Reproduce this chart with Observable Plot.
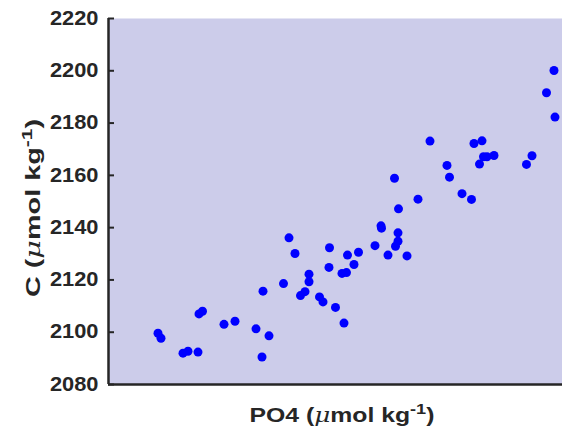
<!DOCTYPE html>
<html>
<head>
<meta charset="utf-8">
<script src="https://cdn.jsdelivr.net/npm/d3@7"></script>
<script src="https://cdn.jsdelivr.net/npm/@observablehq/plot@0.6"></script>
<style>
  html, body { margin: 0; padding: 0; background: #fff; }
  #chart svg { display: block; }
</style>
</head>
<body>
<div id="chart"></div>
<script>
// PO4 (µmol/kg) and C (µmol/kg) pairs
const po4 = [0.999, 1.005, 1.049, 1.059, 1.079, 1.081, 1.088, 1.131, 1.153, 1.195,
             1.209, 1.207, 1.221, 1.250, 1.261, 1.273, 1.284, 1.293, 1.301, 1.301,
             1.322, 1.329, 1.341, 1.342, 1.354, 1.367, 1.376, 1.371, 1.378, 1.391,
             1.400, 1.433, 1.445, 1.446, 1.459, 1.472, 1.474, 1.479, 1.479, 1.480,
             1.497, 1.519, 1.543, 1.577, 1.582, 1.607, 1.626, 1.631, 1.642, 1.647,
             1.650, 1.657, 1.671, 1.736, 1.747, 1.776, 1.791, 1.793];
const carbon = [2099.6, 2097.7, 2092.0, 2092.7, 2092.4, 2107.0, 2108.0, 2103.0, 2104.2, 2101.3,
                2115.7, 2090.5, 2098.6, 2118.6, 2136.1, 2130.1, 2114.0, 2115.5, 2122.2, 2119.3,
                2113.5, 2111.6, 2124.8, 2132.3, 2109.5, 2122.5, 2122.8, 2103.5, 2129.5, 2125.9,
                2130.6, 2133.1, 2140.7, 2139.8, 2129.5, 2158.9, 2132.9, 2134.8, 2138.0, 2147.2,
                2129.2, 2150.9, 2173.1, 2163.8, 2159.3, 2153.0, 2150.8, 2172.2, 2164.3, 2173.2,
                2167.1, 2167.1, 2167.6, 2164.2, 2167.5, 2191.6, 2200.1, 2182.3];
const yTicks = [2080, 2100, 2120, 2140, 2160, 2180, 2200, 2220];
const xDomain = [0.9, 1.808];
const yDomain = [2080, 2220];

const data = po4.map((p, i) => ({po4: p, c: carbon[i]}));

const font = "'Liberation Sans', Arial, Helvetica, sans-serif";
const axisColor = "#262626";

const chart = Plot.plot({
  width: 562,
  height: 432,
  marginLeft: 108,
  marginRight: 0,
  marginTop: 18,
  marginBottom: 48,
  style: {fontFamily: font, background: "white"},
  x: {domain: xDomain, axis: null},
  y: {domain: yDomain, axis: null},
  marks: [
    Plot.frame({fill: "#ccccea", stroke: null}),
    Plot.axisY({
      ticks: yTicks,
      tickSize: -6,
      tickPadding: 16,
      stroke: axisColor,
      strokeWidth: 2,
      fill: axisColor,
      fontSize: 19.5,
      fontWeight: "bold",
      label: null,
      tickFormat: d => String(d)
    }),
    Plot.dot(data, {x: "po4", y: "c", r: 4.5, fill: "#0000ff", stroke: null}),
    Plot.ruleX([xDomain[0]], {stroke: axisColor, strokeWidth: 2.5}),
    Plot.ruleY([yDomain[0]], {stroke: axisColor, strokeWidth: 2.5})
  ]
});

document.getElementById("chart").appendChild(chart);

// widen the tick labels a little around their right edge (reference glyphs are broad)
d3.select(chart).selectAll("g[aria-label='y-axis tick label'] text").each(function() {
  const b = this.getBBox();
  const r = b.x + b.width;
  const t = this.getAttribute("transform") || "";
  this.setAttribute("transform", `${t} translate(${r},0) scale(1.12,1) translate(${-r},0)`);
});

// Axis titles with superscripts, as real text
const svg = d3.select(chart);
function addLabel(sel, main) {
  sel.append("tspan").text(main + " (");
  sel.append("tspan").attr("font-style", "italic").attr("font-family", "'DejaVu Serif', serif").attr("font-weight", "normal").text("μ");
  sel.append("tspan").text("mol kg");
  sel.append("tspan").attr("dy", -8).attr("font-size", 15).text("-1");
  sel.append("tspan").attr("dy", 8).text(")");
}
function place(textSel, targetLen, tx, ty, rot) {
  const w = textSel.node().getBBox().width;
  const s = targetLen / w;
  textSel.attr("transform", `translate(${tx},${ty}) rotate(${rot}) scale(${s},1)`);
}
const xl = svg.append("text")
  .attr("text-anchor", "middle")
  .attr("font-family", font).attr("font-weight", "bold").attr("font-size", 20.5)
  .attr("fill", axisColor);
addLabel(xl, "PO4");
place(xl, 185, 342, 422, 0);

const yl = svg.append("text")
  .attr("text-anchor", "middle")
  .attr("font-family", font).attr("font-weight", "bold").attr("font-size", 20.5)
  .attr("fill", axisColor);
addLabel(yl, "C");
place(yl, 178, 40, 208, -90);
</script>
</body>
</html>
